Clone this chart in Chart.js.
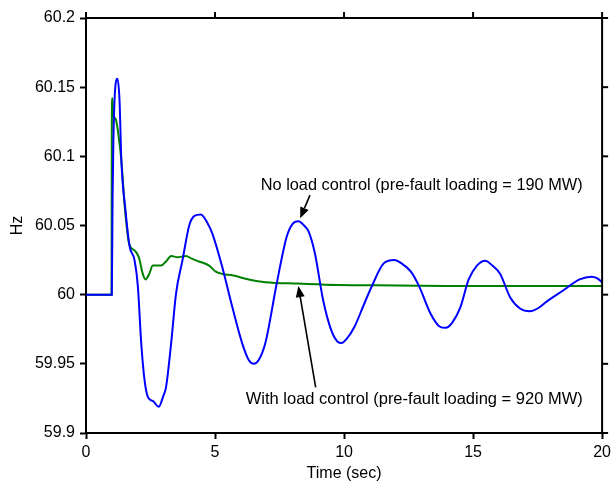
<!DOCTYPE html>
<html>
<head>
<meta charset="utf-8">
<script src="https://cdn.jsdelivr.net/npm/chart.js@4"></script>
<style>
  html, body { margin: 0; padding: 0; background: #fff; }
  #freqChart { display: block; }
</style>
</head>
<body>
<canvas id="freqChart" width="615" height="483"></canvas>
<script>
// Time axis (sec) and frequency (Hz)
const timeNoCtrl = [0, 0.98, 1.0, 1.03, 1.06, 1.12, 1.22, 1.3, 1.37, 1.53, 1.69, 1.88, 2.01, 2.14, 2.27, 2.4, 2.6, 2.82,
    3.0, 3.1, 3.3, 3.49, 3.74, 4.0, 4.2, 4.45, 4.7, 4.9, 5.28, 5.67, 6.05, 6.3, 6.5, 6.7, 6.95, 7.4, 7.78, 8.0, 8.23,
    8.45, 8.62, 8.87, 9.19, 9.51, 9.75, 9.9, 10.1, 10.41, 10.75, 11.05, 11.56, 11.95, 12.2, 12.59, 12.91, 13.36, 13.7,
    13.94, 14.2, 14.51, 14.83, 15.15, 15.47, 15.75, 16.05, 16.44, 16.82, 17.2, 17.5, 17.85, 18.49, 19.13, 19.58, 19.8, 20];
const hzNoCtrl = [60, 60, 60.0, 60.07, 60.11, 60.146, 60.156, 60.14, 60.097, 60.061, 60.035, 60.025, 60.006, 59.965,
    59.938, 59.926, 59.923, 59.919, 59.927, 59.933, 59.965, 60.001, 60.025, 60.05, 60.057, 60.058, 60.052, 60.044, 60.02,
    59.991, 59.965, 59.953, 59.95, 59.953, 59.965, 60.009, 60.042, 60.051, 60.053, 60.05, 60.046, 60.03, 59.996, 59.974,
    59.966, 59.965, 59.968, 59.977, 59.992, 60.005, 60.023, 60.025, 60.023, 60.0166, 60.006, 59.986, 59.977, 59.976,
    59.98, 59.991, 60.011, 60.021, 60.0245, 60.021, 60.015, 59.998, 59.99, 59.988, 59.99, 59.995, 60.003, 60.011,
    60.013, 60.012, 60.009];

const timeWithCtrl = [0, 0.99, 1.0, 1.02, 1.05, 1.15, 1.24, 1.37, 1.5, 1.67, 1.88, 2.05, 2.2, 2.31, 2.45, 2.59, 2.91,
    3.1, 3.3, 3.55, 3.87, 4.1, 4.38, 4.77, 5.03, 5.3, 5.67, 6.31, 6.95, 8.23, 9.77, 12.08, 14, 20];
const hzWithCtrl = [60, 60, 60.12, 60.142, 60.131, 60.127, 60.118, 60.097, 60.064, 60.037, 60.032, 60.027, 60.015,
    60.011, 60.015, 60.021, 60.021, 60.024, 60.028, 60.027, 60.028, 60.026, 60.024, 60.021, 60.0166, 60.015, 60.014,
    60.011, 60.009, 60.008, 60.007, 60.0067, 60.0063, 60.0062];

const xTickLabels = ['0', '5', '10', '15', '20'];
const yTickLabels = ['59.9', '59.95', '60', '60.05', '60.1', '60.15', '60.2'];

const noteNoCtrl = 'No load control (pre-fault loading = 190 MW)';
const noteWithCtrl = 'With load control (pre-fault loading = 920 MW)';

const toPoints = (xs, ys) => xs.map((x, i) => ({ x: x, y: ys[i] }));

const FONT = 'Liberation Sans, Arial, sans-serif';

function drawArrow(ctx, x1, y1, x2, y2) {
    const ang = Math.atan2(y2 - y1, x2 - x1);
    const head = 11, half = 4.5;
    ctx.beginPath();
    ctx.moveTo(x1, y1);
    ctx.lineTo(x2 - Math.cos(ang) * head, y2 - Math.sin(ang) * head);
    ctx.stroke();
    ctx.beginPath();
    ctx.moveTo(x2, y2);
    ctx.lineTo(x2 - Math.cos(ang) * head - Math.sin(ang) * half, y2 - Math.sin(ang) * head + Math.cos(ang) * half);
    ctx.lineTo(x2 - Math.cos(ang) * head + Math.sin(ang) * half, y2 - Math.sin(ang) * head - Math.cos(ang) * half);
    ctx.closePath();
    ctx.fill();
}

// frame on top/right plus the two text notes with arrows
const framePlugin = {
    id: 'frame',
    afterDraw(chart) {
        const { ctx, chartArea: a, scales: { x, y } } = chart;
        ctx.save();
        ctx.strokeStyle = '#000';
        ctx.fillStyle = '#000';
        ctx.lineWidth = 2;
        ctx.beginPath();
        ctx.moveTo(a.left, a.top);
        ctx.lineTo(a.right, a.top);
        ctx.lineTo(a.right, a.bottom);
        ctx.stroke();
        x.ticks.forEach(t => {
            const px = x.getPixelForValue(t.value);
            ctx.beginPath();
            ctx.moveTo(px, a.top);
            ctx.lineTo(px, a.top - 6);
            ctx.stroke();
        });
        y.ticks.forEach(t => {
            const py = y.getPixelForValue(t.value);
            ctx.beginPath();
            ctx.moveTo(a.right, py);
            ctx.lineTo(a.right + 6, py);
            ctx.stroke();
        });

        ctx.font = '16.5px ' + FONT;
        ctx.textBaseline = 'alphabetic';
        ctx.textAlign = 'left';
        ctx.fillText(noteNoCtrl, x.getPixelForValue(6.77), y.getPixelForValue(60.0756), 322);
        ctx.fillText(noteWithCtrl, x.getPixelForValue(6.19), y.getPixelForValue(59.921), 338);

        ctx.lineWidth = 1.6;
        drawArrow(ctx, x.getPixelForValue(8.68), y.getPixelForValue(60.072),
            x.getPixelForValue(8.3), y.getPixelForValue(60.0552));
        drawArrow(ctx, x.getPixelForValue(8.9), y.getPixelForValue(59.933),
            x.getPixelForValue(8.23), y.getPixelForValue(60.0062));
        ctx.restore();
    }
};

const ctx = document.getElementById('freqChart').getContext('2d');
const freqChart = new Chart(ctx, {
    type: 'line',
    data: {
        datasets: [
            {
                label: 'No load control',
                data: toPoints(timeNoCtrl, hzNoCtrl),
                borderColor: '#0000ff',
                borderWidth: 2,
                pointRadius: 0,
                cubicInterpolationMode: 'monotone'
            },
            {
                label: 'With load control',
                data: toPoints(timeWithCtrl, hzWithCtrl),
                borderColor: '#008000',
                borderWidth: 2,
                pointRadius: 0,
                cubicInterpolationMode: 'monotone'
            }
        ]
    },
    options: {
        responsive: false,
        animation: false,
        layout: { padding: { top: 18, right: 9, left: 0, bottom: 0 } },
        plugins: {
            legend: { display: false },
            tooltip: { enabled: false }
        },
        scales: {
            x: {
                type: 'linear',
                min: 0,
                max: 20,
                afterFit: s => { s.height = 50; },
                ticks: {
                    stepSize: 5,
                    color: '#000',
                    padding: 4,
                    maxRotation: 0,
                    font: { family: FONT, size: 16 },
                    callback: (v, i) => xTickLabels[i]
                },
                grid: { drawOnChartArea: false, drawTicks: true, tickLength: 6, tickColor: '#000', tickWidth: 2 },
                border: { display: true, color: '#000', width: 2 },
                title: {
                    display: true,
                    text: 'Time (sec)',
                    color: '#000',
                    font: { family: FONT, size: 16 },
                    padding: { top: 0, bottom: 0 }
                }
            },
            y: {
                min: 59.9,
                max: 60.2,
                afterFit: s => { s.width = 86; },
                ticks: {
                    stepSize: 0.05,
                    color: '#000',
                    padding: 5,
                    font: { family: FONT, size: 16 },
                    callback: (v, i) => yTickLabels[i]
                },
                grid: { drawOnChartArea: false, drawTicks: true, tickLength: 6, tickColor: '#000', tickWidth: 2 },
                border: { display: true, color: '#000', width: 2 },
                title: {
                    display: true,
                    text: 'Hz',
                    color: '#000',
                    font: { family: FONT, size: 16 },
                    padding: { top: 8, bottom: 0 }
                }
            }
        }
    },
    plugins: [framePlugin]
});
</script>
</body>
</html>
